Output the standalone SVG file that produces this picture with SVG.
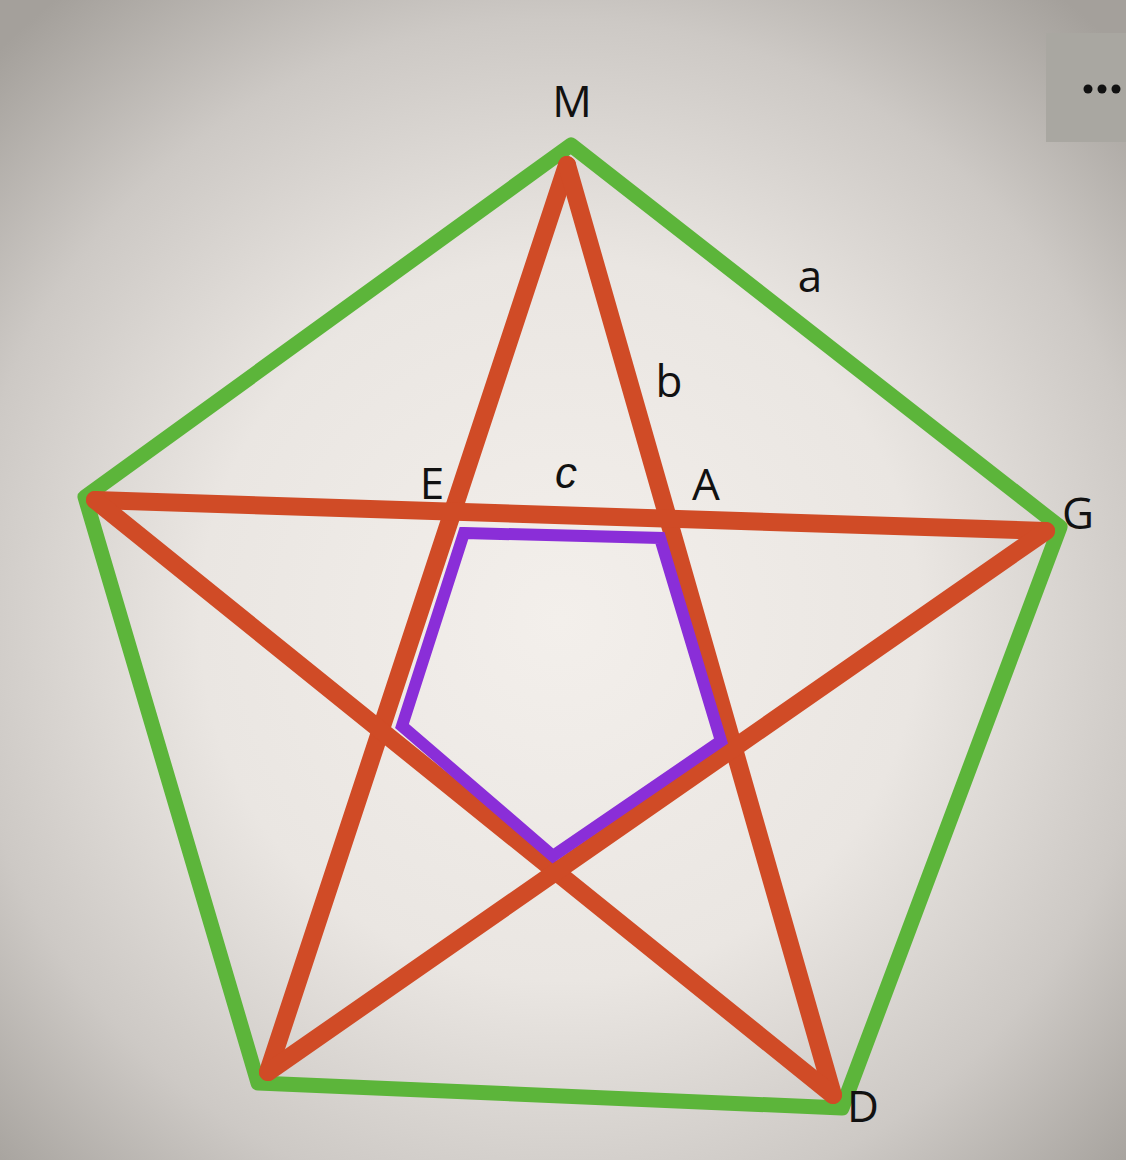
<svg xmlns="http://www.w3.org/2000/svg" width="1126" height="1160" viewBox="0 0 1126 1160">
<defs>
<radialGradient id="bg" cx="560" cy="620" r="800" gradientUnits="userSpaceOnUse">
<stop offset="0" stop-color="#f3efeb"/>
<stop offset="0.45" stop-color="#eae6e2"/>
<stop offset="0.75" stop-color="#cdc9c5"/>
<stop offset="1" stop-color="#a4a09b"/>
</radialGradient>
<style>
.lbl{font-family:"Open Sans","Liberation Sans",Arial,sans-serif;fill:#111;font-size:44px;text-anchor:middle}
.ital{font-family:"Liberation Sans",Arial,sans-serif;font-style:italic}
.green{fill:none;stroke:#5cb53a;stroke-width:15;stroke-linejoin:round}
.red{fill:none;stroke:#d04b26;stroke-width:18;stroke-linecap:round}
.purple{fill:none;stroke:#8a2ed8;stroke-width:12;stroke-linejoin:miter}
</style>
</defs>
<rect width="1126" height="1160" fill="url(#bg)"/>
<g id="menu-button">
<rect x="1046" y="33" width="80" height="109" fill="#a9a7a1"/>
<circle cx="1088" cy="89" r="4.5" fill="#111"/>
<circle cx="1102" cy="89" r="4.5" fill="#111"/>
<circle cx="1116" cy="89" r="4.5" fill="#111"/>
</g>
<g id="outer-pentagon">
<polygon class="green" points="571,145 1060,527 842,1108 258,1083 85,497"/>
</g>
<g id="connectors">
<line class="red" x1="567" y1="165" x2="268" y2="1072"/>
<line class="red" x1="567" y1="165" x2="833" y2="1095"/>
<line class="red" x1="95" y1="500" x2="1046" y2="531"/>
<line class="red" x1="95" y1="500" x2="833" y2="1095"/>
<line class="red" x1="1046" y1="531" x2="268" y2="1072"/>
</g>
<g id="inner-pentagon">
<polygon class="purple" points="464,533 660,538 721,741 553,856 402,726"/>
</g>
<g id="labels">
<text class="lbl" x="572" y="117">M</text>
<text class="lbl" x="810" y="292" font-size="40">a</text>
<text class="lbl" x="669" y="397" font-size="40">b</text>
<text class="lbl" x="432" y="499">E</text>
<text class="lbl ital" x="566" y="488" font-size="40">c</text>
<text class="lbl" x="706" y="500">A</text>
<text class="lbl" x="1078" y="529">G</text>
<text class="lbl" x="863" y="1122">D</text>
</g>
</svg>
